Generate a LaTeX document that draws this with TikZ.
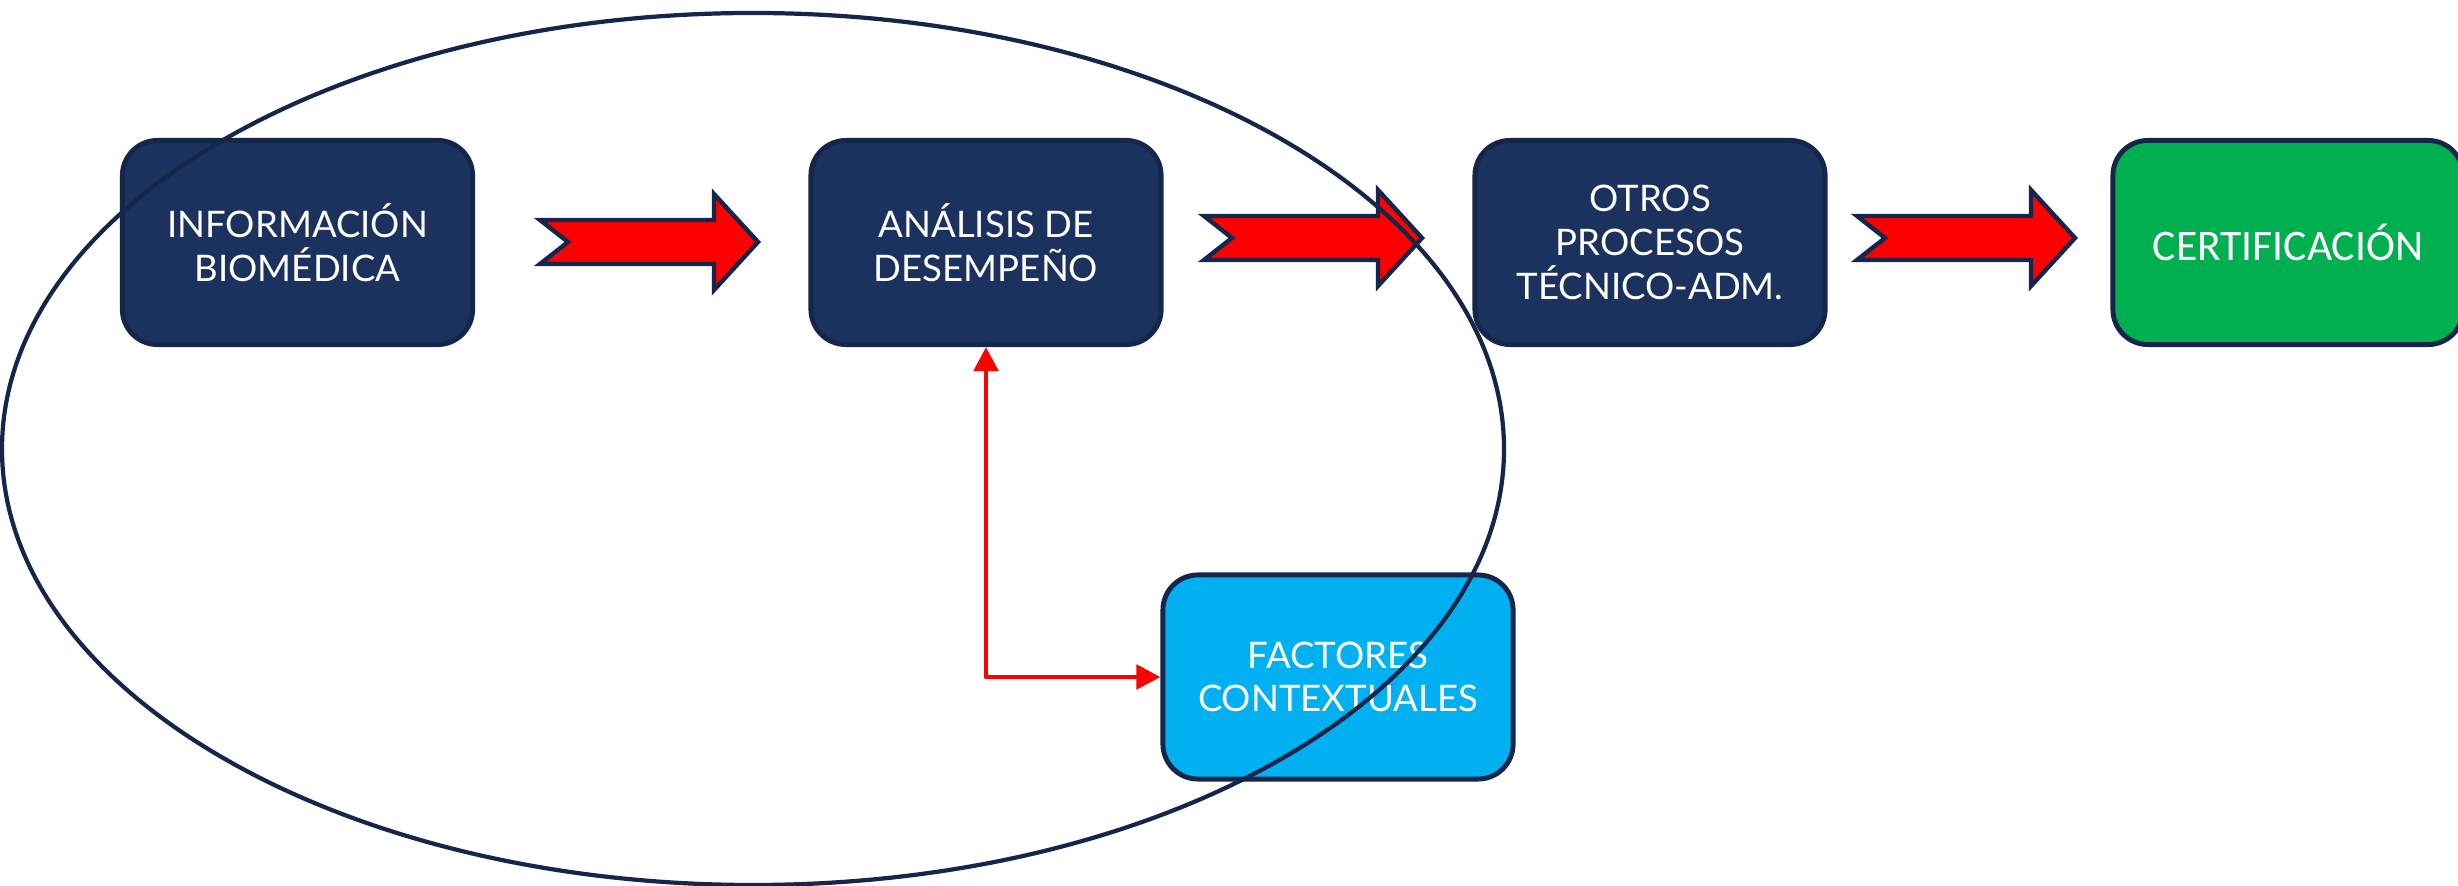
\documentclass[tikz,border=0pt]{standalone}
\usepackage{fontspec}
\newfontfamily\gillfont{Lato}
\newfontfamily\calfont{Carlito}
\usetikzlibrary{arrows.meta}
\definecolor{navyfill}{HTML}{1C325E}
\definecolor{navyline}{HTML}{14264A}
\definecolor{certgreen}{HTML}{00B050}
\definecolor{factcyan}{HTML}{00B0F0}
\definecolor{arrowred}{HTML}{FF0000}
\tikzset{
  procbox/.style={draw=navyline, fill=navyfill, line width=1.4pt, rounded corners=0.35cm,
    minimum width=3.5cm, minimum height=2.04cm, inner sep=0pt, align=center, text=white,
    font=\gillfont\fontsize{10.4}{12.4}\selectfont},
  certbox/.style={procbox, fill=certgreen, font=\calfont\fontsize{12.4}{14}\selectfont},
  factbox/.style={procbox, fill=factcyan},
  blockarrow/.pic={\draw[navyline, fill=arrowred, line width=1.25pt, line join=miter]
    (2,-22) -- (30,0) -- (2,22) -- (176,22) -- (176,48) -- (220,0) -- (176,-48) -- (176,-22) -- cycle;},
  linkarrow/.style={arrowred, line width=1.4pt, line join=round,
    {Triangle[length=0.24cm,width=0.24cm]}-{Triangle[length=0.24cm,width=0.24cm]}},
  groupring/.style={navyline, line width=1.2pt}
}
\begin{document}
\begin{tikzpicture}[x=0.01cm,y=-0.01cm]
\clip (0,0) rectangle (2458,886);
\node[procbox] (b1) at (297.5,242.5) {INFORMACIÓN\\BIOMÉDICA};
\node[procbox] (b2) at (986,242.5) {ANÁLISIS DE\\DESEMPEÑO};
\node[procbox] (b3) at (1650,242.5) {OTROS\\PROCESOS\\TÉCNICO-ADM.};
\node[certbox] (b4) at (2288,242.5) {CERTIFICACIÓN};
\node[factbox] (b5) at (1338,677) {FACTORES\\CONTEXTUALES};
\pic at (538,242) {blockarrow};
\pic at (1202,238) {blockarrow};
\pic at (1855,238) {blockarrow};
\draw[linkarrow] (b2.south) |- (b5.west);
\draw[groupring] (753,449) ellipse [x radius=751, y radius=436];
\end{tikzpicture}
\end{document}
